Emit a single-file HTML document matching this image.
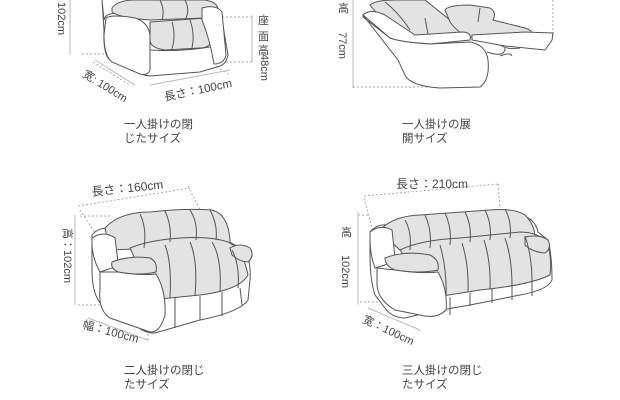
<!DOCTYPE html>
<html><head><meta charset="utf-8"><style>
html,body{margin:0;padding:0;background:#fff;width:620px;height:400px;overflow:hidden}
svg{display:block}
text{font-family:"Liberation Sans","Noto Sans CJK JP",sans-serif;fill:#444}
.s{stroke:#555;stroke-width:1;fill:none}
.g{stroke:#555;stroke-width:1;fill:#e3e3e3}
.w{stroke:#555;stroke-width:1;fill:#fff}
.d{stroke:#aaa;stroke-width:1;fill:none;stroke-dasharray:2 2}
.l{stroke:#bbb;stroke-width:1;fill:none}
</style></head><body>
<svg width="620" height="400" viewBox="0 0 620 400">
<!-- Q1 chair -->
<path class="l" d="M70 0 V55"/>
<path class="d" d="M82 54 H108"/>
<path class="d" d="M222 17 H252 M222 62 H252"/>
<path class="l" d="M252 15 V62"/>
<path class="d" d="M93 62 L130 85 M213 65 L230 75"/>
<path class="l" d="M95 60 L135 85"/>
<path class="l" d="M150 85 L230 70"/>
<path class="w" d="M102 0 L104 20 Q106 12 118 14 L200 12 Q218 8 222 20 L228 55 Q226 64 220 66 L200 72 L150 76 Q140 75 135 70 L110 60 Q103 55 104 30 Z"/>
<path class="g" d="M112 8 Q118 0 135 0 H205 Q218 2 218 10 Q215 16 205 18 L150 20 Q120 18 112 12 Z"/>
<path class="g" d="M150 22 L206 18 Q214 20 212 40 Q210 48 200 48 L165 50 Q150 48 150 40 Z"/>
<path class="s" d="M172 22 Q176 35 172 49 M190 20 Q195 34 192 48 M160 0 Q165 10 162 20 M185 0 Q190 10 186 18"/>
<path class="w" d="M106 18 Q112 14 135 18 Q148 22 150 35 L150 70 Q148 76 140 74 L112 62 Q104 56 104 35 Z"/>
<path class="w" d="M202 8 Q216 4 222 12 L226 55 Q224 64 214 64 Q210 40 202 20 Z"/>
<path class="s" d="M150 50 Q180 52 210 47"/>
<text x="0" y="0" font-size="11" transform="translate(58,2) rotate(90)">102cm</text>
<text x="258" y="24" font-size="11">座</text>
<text x="258" y="40" font-size="11">面</text>
<text x="258" y="54" font-size="11">高</text>
<text font-size="11" transform="translate(261,54) rotate(90)">48cm</text>
<text font-size="11" transform="translate(82,76) rotate(32)">宽: 100cm</text>
<text font-size="11.5" transform="translate(165,101) rotate(-12)">長さ：100cm</text>
<text x="124" y="128" font-size="11.5">一人掛けの閉</text>
<text x="124" y="142" font-size="11.5">じたサイズ</text>

<!-- Q2 recliner -->
<path class="l" d="M353 0 V88"/>
<path class="d" d="M353 87 H482 M553 0 V35"/>
<text font-size="11" transform="translate(338,12)">高</text>
<text font-size="11" transform="translate(339,32) rotate(90)">77cm</text>
<path class="g" d="M370 5 Q375 0 395 0 H425 L450 20 Q462 22 463 35 L412 35 Q385 25 370 5 Z"/>
<path class="g" d="M445 10 Q448 5 470 5 L490 8 Q497 12 493 20 L525 28 Q538 32 525 38 L475 38 Q460 36 450 22 Z"/>
<path class="s" d="M385 2 Q398 12 410 30 M425 18 L428 34 M480 8 L478 22"/>
<path class="w" d="M363 15 Q370 8 385 15 L415 35 L462 32 Q472 32 470 40 L430 44 Q400 42 390 38 Z"/>
<path class="w" d="M363 15 L398 60 L405 75 Q410 86 440 88 L480 87 Q490 80 488 60 Q486 45 470 42 L430 44 Q400 42 390 38 L363 17 Z"/>
<path class="w" d="M472 35 L525 32 L553 33 L552 40 L545 50 L505 46 L472 40 Z"/>
<path class="s" d="M500 45 Q508 50 520 48 M487 52 Q505 58 505 48 M500 56 Q510 52 512 56"/>
<text x="402" y="128" font-size="11.5">一人掛けの展</text>
<text x="402" y="142" font-size="11.5">開サイズ</text>

<!-- Q3 loveseat -->
<path class="d" d="M78 206 L190 188 M80 210 L100 240 M188 186 L200 210"/>
<path class="d" d="M80 216 H110 M78 305 H105"/>
<path class="l" d="M75 215 V305"/>
<path class="l" d="M88 318 L148 340"/>
<path class="d" d="M148 330 L148 340"/>
<text font-size="12" transform="translate(92,196) rotate(-6)">長さ：160cm</text>
<text font-size="11" transform="translate(64,228) rotate(90)">高：102cm</text>
<text font-size="11.5" transform="translate(82,328) rotate(15)">幅：100cm</text>
<path class="w" d="M92 235 Q100 225 115 230 L200 225 L235 245 Q252 250 250 280 L248 300 Q240 312 200 320 L155 333 Q140 333 135 322 L102 305 Q92 295 92 270 Z"/>
<path class="g" d="M105 228 Q120 212 150 212 Q185 208 212 210 Q228 214 230 240 L230 245 L110 250 Z"/>
<path class="g" d="M130 248 Q150 240 180 238 Q210 236 228 242 L238 248 Q245 260 248 275 Q240 290 200 295 L150 300 Q140 290 140 270 Z"/>
<path class="g" d="M230 248 Q240 242 250 248 Q255 256 248 262 Q240 262 232 255 Z"/>
<path class="s" d="M140 214 Q147 228 144 248 M165 211 Q172 226 170 242 M190 210 Q198 222 196 240 M210 210 Q218 225 216 240 M165 245 Q172 262 170 298 M190 242 Q198 260 195 296 M212 242 Q222 258 220 292 M232 250 Q240 265 238 288"/>
<path class="s" d="M175 298 L175 328 M200 296 L200 320 M222 292 L222 316 M240 288 L242 305"/>
<path class="w" d="M92 238 Q104 230 115 238 L118 262 L112 268 L100 272 Q93 260 92 245 Z"/>
<path class="g" d="M112 262 Q130 255 150 258 Q158 262 156 272 Q140 276 118 272 Q110 268 112 262 Z"/>
<path class="w" d="M100 272 L118 272 Q140 276 156 274 Q166 290 165 315 Q160 333 150 332 L110 318 Q98 310 100 290 Z"/>
<text x="124" y="374" font-size="11.5">二人掛けの閉じ</text>
<text x="124" y="388" font-size="11.5">たサイズ</text>

<!-- Q4 sofa -->
<path class="d" d="M364 196 L498 184 M364 198 L372 228 M498 184 L500 208"/>
<path class="d" d="M358 215 H370 M360 302 H385"/>
<path class="l" d="M358 212 V305"/>
<path class="l" d="M368 308 L420 330"/>
<text font-size="12" transform="translate(396,188)">長さ：210cm</text>
<text font-size="11" transform="translate(341,236)">高</text>
<text font-size="11" transform="translate(342,255) rotate(90)">102cm</text>
<text font-size="11" transform="translate(362,322) rotate(25)">宽：100cm</text>
<path class="w" d="M370 232 Q378 222 392 226 L520 215 Q535 218 538 232 L548 240 Q552 255 552 280 Q548 290 520 295 L470 305 L430 312 L405 318 Q392 318 385 308 L375 295 Q370 280 370 255 Z"/>
<path class="g" d="M382 228 Q395 216 420 215 L490 210 Q515 208 525 215 Q535 225 535 238 L400 250 Q388 240 382 228 Z"/>
<path class="g" d="M400 250 Q420 240 460 238 L520 232 Q540 232 548 245 Q552 260 550 275 Q530 285 480 290 L430 298 Q418 290 415 272 Z"/>
<path class="g" d="M525 237 Q540 234 548 240 Q552 248 545 253 Q532 252 525 245 Z"/>
<path class="s" d="M405 220 Q412 232 410 250 M425 215 Q432 230 430 248 M445 213 Q452 228 450 245 M465 212 Q472 226 470 242 M485 210 Q492 224 490 240 M505 209 Q512 222 510 238 M440 245 Q447 270 446 296 M462 243 Q469 265 468 292 M484 240 Q491 262 490 289 M505 238 Q512 258 512 286 M525 236 Q532 256 532 282"/>
<path class="s" d="M450 297 V315 M470 293 V306 M492 289 V303 M512 286 V300 M532 282 V296"/>
<path class="w" d="M370 232 Q380 224 392 230 L395 258 L385 265 L375 268 Q370 255 370 240 Z"/>
<path class="g" d="M385 258 Q405 250 430 255 Q440 260 438 270 Q420 274 395 270 Q385 266 385 258 Z"/>
<path class="w" d="M377 268 L395 270 Q420 274 438 272 Q448 290 446 310 Q438 318 425 316 L395 310 Q378 300 377 285 Z"/>
<text x="402" y="374" font-size="11.5">三人掛けの閉じ</text>
<text x="402" y="388" font-size="11.5">たサイズ</text>
</svg>
</body></html>
